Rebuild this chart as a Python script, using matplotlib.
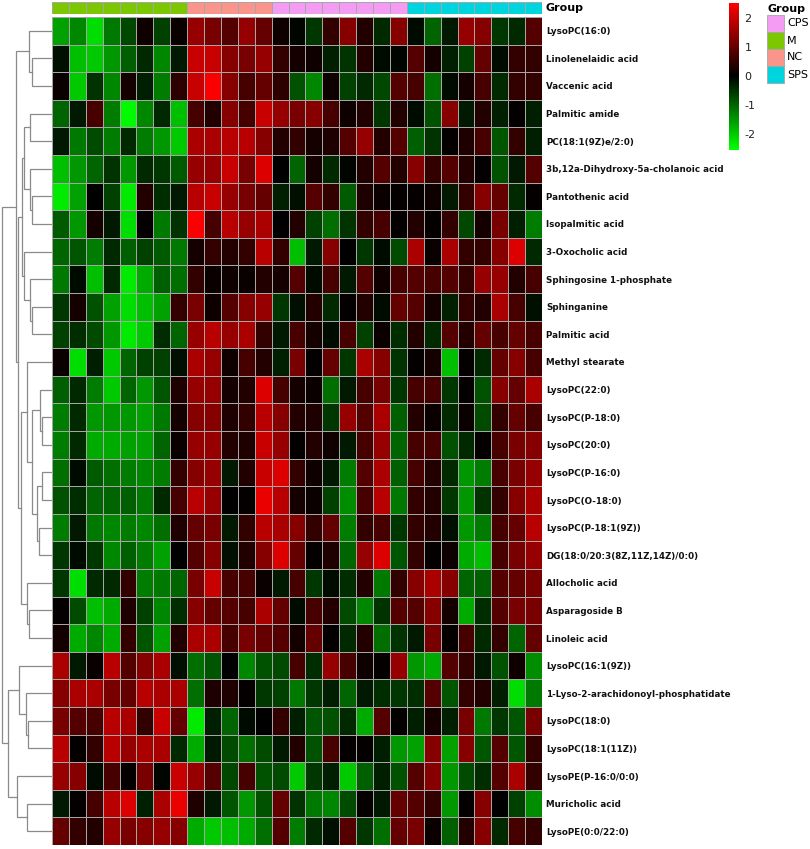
import numpy as np
import matplotlib
matplotlib.use("Agg")
import matplotlib.pyplot as plt
from matplotlib.colors import LinearSegmentedColormap, ListedColormap, Normalize
from matplotlib.colorbar import ColorbarBase
from matplotlib.patches import Rectangle

plt.rcParams["axes.unicode_minus"] = False

W, H = 810, 849

metabolites = [
    "LysoPC(16:0)", "Linolenelaidic acid", "Vaccenic acid", "Palmitic amide",
    "PC(18:1(9Z)e/2:0)", "3b,12a-Dihydroxy-5a-cholanoic acid", "Pantothenic acid",
    "Isopalmitic acid", "3-Oxocholic acid", "Sphingosine 1-phosphate", "Sphinganine",
    "Palmitic acid", "Methyl stearate", "LysoPC(22:0)", "LysoPC(P-18:0)",
    "LysoPC(20:0)", "LysoPC(P-16:0)", "LysoPC(O-18:0)", "LysoPC(P-18:1(9Z))",
    "DG(18:0/20:3(8Z,11Z,14Z)/0:0)", "Allocholic acid", "Asparagoside B",
    "Linoleic acid", "LysoPC(16:1(9Z))", "1-Lyso-2-arachidonoyl-phosphatidate",
    "LysoPC(18:0)", "LysoPC(18:1(11Z))", "LysoPE(P-16:0/0:0)", "Muricholic acid",
    "LysoPE(0:0/22:0)",
]

# column annotation (sample groups, left to right)
groups = ["M"] * 8 + ["NC"] * 5 + ["CPS"] * 8 + ["SPS"] * 8
group_names = ["CPS", "M", "NC", "SPS"]
group_colors = ["#F49CF4", "#7DC700", "#F9958A", "#00D5DF"]

# scaled values, one row per metabolite (29 samples each)
z = [
    [-1.6, -1.35, -2.2, -1.2, -0.7, 0.15, -0.65, 0.1, 1.5, 1.2, 0.85, 1.5, 1.0, 0.15, -0.05, -0.55, 0.5, 1.35, 0.35, -0.4, 1.35, -0.1, -1.0, -0.25, 1.5, 1.35, -0.55, -0.4, 0.85],
    [-0.15, -1.9, -2.0, -1.5, -0.95, -0.4, -1.35, -0.25, 2.0, 2.0, 1.35, 1.2, 1.5, 0.5, 0.2, 0.15, -0.3, -0.5, 0.35, -0.1, -0.05, 0.85, 0.2, -0.3, -0.65, 1.0, -0.1, 0.5, 0.5],
    [0.1, -2.0, -0.5, -1.35, 0.2, -0.3, -1.25, 0.45, 2.0, 2.5, 1.35, 0.7, 1.0, 0.45, -0.8, -1.35, 0.15, -0.65, -0.4, -0.7, 0.85, 0.7, -1.1, -0.1, 0.2, 0.7, -0.4, 0.5, 0.5],
    [-1.0, -0.25, 0.7, -1.25, -2.5, -1.35, -0.4, -1.9, 0.7, 0.35, 1.35, 0.7, 2.0, 1.5, 1.2, 1.35, 0.7, 0.15, 0.35, -0.55, 0.35, -0.1, -0.8, 1.35, -0.25, 0.35, -0.3, 0.05, -0.3],
    [-0.25, -1.2, -0.75, -1.25, -0.4, -1.25, -1.5, -2.0, 1.7, 1.7, 1.85, 1.85, 1.35, 0.35, 0.5, 0.2, 0.3, 0.85, 1.5, 0.35, 0.85, -0.95, -0.5, 0.05, 0.3, 0.7, -0.85, 0.5, -0.3],
    [-1.9, -1.5, -1.0, -0.5, -1.5, -0.4, -0.55, -0.9, 1.5, 1.5, 2.0, 1.2, 2.2, 0.0, -1.0, 0.2, -0.4, -0.05, 0.35, 0.85, 0.35, 1.35, 0.5, 0.85, 0.35, 0.05, -0.8, -0.25, 0.85],
    [-2.35, -1.6, 0.0, -0.65, -2.35, 0.35, -0.45, -0.25, 1.85, 2.0, 1.5, 1.2, 1.0, -0.3, -0.15, 0.85, 0.5, -0.9, 0.3, 0.1, 0.05, 0.05, 0.15, -0.25, 0.5, 1.35, 1.0, -0.4, 0.05],
    [-0.9, -1.5, 0.2, -0.25, -2.2, 0.05, -1.2, -0.5, 2.5, 0.7, 1.85, 1.5, 1.7, 0.0, 0.35, -0.65, -1.1, -0.5, 0.5, 0.7, 0.05, 0.35, 0.05, 0.5, -0.7, 0.2, 1.2, -0.3, -1.25],
    [-1.0, -0.85, -1.25, -0.4, -0.95, -0.65, -0.9, -1.2, 0.2, 0.5, 0.35, 0.5, 1.85, 0.5, -1.9, -0.25, 1.35, 0.0, -0.55, -0.1, -0.75, 1.7, 0.1, 1.7, 0.5, 0.5, 1.35, 2.2, -0.4],
    [-1.2, -0.1, -1.9, -0.4, -2.35, -1.7, -0.95, -1.1, 0.5, 0.1, 0.15, 0.1, 0.35, 0.2, 0.85, -0.1, 0.7, -0.25, 0.85, 0.15, 0.7, 0.85, 0.7, 0.85, 0.5, 1.5, 1.5, 0.35, 0.7],
    [-0.55, 0.2, -0.8, -1.6, -2.2, -1.9, -1.6, 0.5, 1.2, 0.15, 0.85, 1.35, 1.5, -0.55, -0.15, 0.35, -0.4, 0.05, 0.35, -0.1, 1.0, 0.85, 0.2, -0.3, 0.5, 0.35, 1.7, 0.7, -0.15],
    [-0.65, -0.45, -0.75, -1.5, -2.35, -2.0, -0.45, -1.0, 1.5, 1.85, 1.5, 1.7, 0.5, -0.25, 0.7, 0.2, -0.1, 0.7, -0.65, 0.1, -0.45, 0.35, -0.4, 0.85, 0.35, 1.0, 0.7, 1.0, 0.7],
    [0.1, -2.2, -0.3, -2.0, -1.0, -0.65, -0.65, -0.15, 1.7, 1.5, 0.15, 0.7, 0.35, -0.3, 1.2, 0.05, 1.0, -0.55, 1.7, 1.35, -0.5, 0.05, 0.2, -1.9, 0.05, -0.4, 1.0, 1.35, 0.7],
    [-0.95, -0.4, -1.25, -2.0, -1.0, -1.5, -0.85, 0.3, 1.5, 1.5, 0.2, 0.35, 2.2, 0.7, 0.2, 0.1, -1.1, -0.25, 0.7, 1.2, -0.55, 0.7, 0.7, -0.55, 0.05, -0.8, 1.35, 1.0, 1.7],
    [-1.25, -0.4, -1.5, -1.5, -1.5, -1.6, -1.2, 0.2, 1.35, 1.35, 0.3, 0.5, 1.85, 1.35, 0.35, 0.3, -0.55, 1.5, 0.85, 1.7, -0.95, 0.35, 0.1, -0.4, 0.1, -0.75, 0.5, 1.0, 0.7],
    [-1.25, -0.4, -1.7, -1.7, -1.6, -1.6, -1.0, 0.1, 1.5, 1.5, 0.35, 0.3, 2.0, 1.5, 0.05, 0.35, 0.15, -0.25, 0.7, 1.5, -1.0, 0.7, 0.7, -0.8, -0.4, 0.05, 0.7, 1.2, 1.35],
    [-1.1, -0.1, -0.9, -1.1, -1.25, -1.35, -1.25, 0.5, 1.35, 1.5, -0.25, 0.35, 2.0, 2.2, 0.5, 0.15, -0.25, -1.25, 0.85, 1.7, -0.95, 0.7, 0.35, -0.4, -1.5, -1.25, 0.7, 1.2, 1.5],
    [-0.8, -0.45, -1.0, -1.0, -0.95, -1.2, -0.4, 0.7, 1.85, 1.5, 0.0, 0.05, 2.35, 1.85, 0.2, 0.1, -0.65, -1.4, 0.7, 1.85, -1.2, 0.5, 0.35, -0.55, -1.5, -0.5, 0.5, 1.35, 1.7],
    [-1.25, -0.25, -1.2, -1.35, -1.25, -1.35, -1.1, 0.3, 1.0, 1.2, -0.25, 0.5, 1.85, 1.7, 1.35, 0.5, 1.0, -1.25, 0.5, 0.7, -0.55, 0.5, 0.35, -0.15, -1.5, -1.25, 0.7, 1.0, 1.85],
    [-0.55, -0.1, -0.55, -1.35, -0.95, -1.25, -1.6, 0.0, 0.85, 1.35, -0.15, 0.35, 1.35, 2.2, 1.0, 0.05, 0.3, -1.0, 1.5, 2.2, -0.85, 0.5, 0.05, 0.15, -1.7, -1.9, 0.7, 1.2, 1.5],
    [-0.55, -2.2, -0.4, -0.4, 0.5, -1.25, -1.2, -1.0, 1.2, 2.0, 0.7, 0.7, 0.1, -0.25, 0.7, -0.55, -0.1, -0.45, 0.35, -1.2, 0.5, 1.35, 1.7, 1.35, -1.0, -0.95, 0.85, 1.0, 1.2],
    [0.05, -0.75, -1.9, -1.7, 0.3, -0.65, -1.35, -0.45, 1.35, 1.0, 0.85, 0.7, 1.7, 1.0, -0.1, 0.7, 0.35, -0.75, -1.35, -0.5, 0.85, 0.85, 1.35, 0.2, -1.7, -0.45, 0.85, 1.2, 1.2],
    [0.2, -1.7, -1.35, -1.7, 0.5, -0.85, -1.6, 0.35, 1.7, 1.7, 0.7, 1.2, 1.0, 0.85, 0.2, 1.0, 0.05, -0.4, 0.35, -1.1, -0.5, -0.25, 1.2, 0.05, 0.7, -0.4, 0.5, -1.0, 1.0],
    [1.7, -0.25, 0.1, 1.85, 0.85, 1.35, 1.7, -0.15, -1.1, -0.85, 0.0, -1.35, -0.8, -0.75, 0.7, -0.45, 1.5, 0.7, 0.15, 0.05, 1.5, -1.5, -1.7, 0.85, 0.5, -0.25, -0.8, 0.15, -1.4],
    [1.35, 1.7, 1.7, 1.2, 1.0, 1.85, 1.7, 1.7, -1.1, 0.3, 0.3, 0.05, -0.55, -0.65, -1.2, -0.55, -0.3, -1.0, -0.25, -0.45, -0.55, -0.45, 0.85, -0.85, 0.5, 0.35, -0.3, -2.2, -1.2],
    [1.2, 0.85, 0.7, 1.85, 1.7, 0.5, 2.0, 1.0, -2.35, -0.3, -1.0, -0.1, 0.0, 0.5, -0.3, -0.85, -0.8, -0.4, -1.7, 0.85, 0.05, -0.3, 0.2, -0.3, 1.2, -1.2, -0.55, -0.85, 1.2],
    [1.85, 0.05, 0.5, 1.85, 1.5, 1.7, 1.7, -0.4, -1.7, -0.25, -0.75, -1.1, -0.75, -0.25, 0.35, -0.8, 0.7, 0.05, 0.05, -0.3, -1.5, -1.6, 1.35, -1.6, 1.35, -0.85, 0.85, -0.85, 0.5],
    [1.5, 1.35, -0.1, 0.7, 0.05, 1.2, -0.05, 2.0, 1.5, 0.85, -0.7, 0.7, -0.8, -0.75, -2.0, -0.55, -0.3, -2.0, -0.95, -0.3, -0.8, 0.85, 1.35, -1.5, -0.75, -0.45, 0.85, 1.7, 0.5],
    [-0.25, 0.05, 0.7, 1.85, 2.2, -0.3, 1.7, 2.35, 0.3, -0.25, -0.85, -1.5, -0.8, 1.0, -0.5, -1.2, -1.35, -0.75, 0.05, -0.25, 1.0, 0.85, 0.5, -1.5, 0.05, 1.35, 0.0, -0.65, -1.4],
    [1.0, 0.5, 0.35, 1.5, 1.2, 1.35, 1.5, 1.35, -1.7, -2.0, -1.9, -1.7, -1.1, 0.85, -1.25, -0.4, -0.15, 0.85, -0.55, -1.1, 1.0, 1.2, 0.1, -0.95, 0.35, 1.35, -0.4, 0.7, 0.5],
]

# row clustering: (left, right, height); ids >= 30 are earlier merges
merges = [
    (1, 2, 19.7), (0, 30, 23.3), (3, 4, 22.0), (6, 7, 19.7), (5, 33, 22.0),
    (32, 34, 28.0), (10, 11, 20.3), (9, 36, 22.0), (8, 37, 28.0), (35, 38, 30.0),
    (14, 15, 10.3), (13, 40, 12.0), (16, 17, 9.7), (18, 19, 12.7), (42, 43, 15.3),
    (41, 44, 19.7), (12, 45, 25.3), (21, 22, 22.7), (20, 47, 25.3), (46, 48, 31.3),
    (39, 49, 33.7), (31, 50, 36.0), (25, 26, 23.7), (24, 52, 26.0), (23, 53, 32.7),
    (28, 29, 25.3), (27, 55, 34.7), (54, 56, 43.7), (51, 57, 50.3),
]

VMIN, VMAX = -2.55, 2.55
cmap = LinearSegmentedColormap.from_list("gkr", ["#00FF00", "#000000", "#FF0000"])
grid_col = "#a6a6a6"


def px(x0, y0, w, h):
    return [x0 / W, 1 - (y0 + h) / H, w / W, h / H]


fig = plt.figure(figsize=(W / 100, H / 100), dpi=100)
fig.patch.set_facecolor("white")

data = np.array(z)
nrow, ncol = data.shape

# heatmap
ax = fig.add_axes(px(52, 17, 490, 828))
ax.pcolormesh(np.arange(ncol + 1), np.arange(nrow + 1), data, cmap=cmap,
              vmin=VMIN, vmax=VMAX, edgecolors=grid_col, linewidth=0.6)
ax.set_xlim(0, ncol)
ax.set_ylim(nrow, 0)
ax.set_xticks([])
ax.yaxis.tick_right()
ax.set_yticks(np.arange(nrow) + 0.5)
ax.set_yticklabels(metabolites, fontsize=6.3, fontweight="bold", color="#111111")
ax.tick_params(axis="y", length=0, pad=3)
for s in ax.spines.values():
    s.set_visible(False)

# group annotation strip
axg = fig.add_axes(px(52, 2, 490, 12))
gidx = np.array([[group_names.index(g) for g in groups]])
axg.pcolormesh(np.arange(ncol + 1), [0, 1], gidx, cmap=ListedColormap(group_colors),
               vmin=-0.5, vmax=len(group_names) - 0.5, edgecolors=grid_col, linewidth=0.6)
axg.set_xlim(0, ncol)
axg.set_ylim(1, 0)
axg.axis("off")
axg.text(ncol + 0.2, 0.5, "Group", fontsize=8, fontweight="bold", va="center", ha="left")

# row dendrogram
axd = fig.add_axes(px(0, 17, 52, 828))
pos = {i: (0.0, i + 0.5) for i in range(nrow)}
for k, (a, b, h) in enumerate(merges):
    ha, ya = pos[a]
    hb, yb = pos[b]
    axd.plot([ha, h, h, hb], [ya, ya, yb, yb], color="#8a8a8a", lw=0.9,
             solid_joinstyle="miter")
    pos[nrow + k] = (h, (ya + yb) / 2)
axd.set_xlim(52, 0)
axd.set_ylim(nrow, 0)
axd.axis("off")

# colour key
axc = fig.add_axes(px(729, 2.5, 10, 147))
cb = ColorbarBase(axc, cmap=cmap, norm=Normalize(VMIN, VMAX), ticks=[-2, -1, 0, 1, 2])
cb.outline.set_visible(False)
axc.tick_params(length=0, labelsize=8, pad=4, labelcolor="#222222")

# group legend
fig.text(768 / W, 1 - 9 / H, "Group", fontsize=8, fontweight="bold", va="center", ha="left")
for i, (name, col) in enumerate(zip(group_names, group_colors)):
    y0 = 15 + i * 17
    fig.patches.append(Rectangle((767 / W, 1 - (y0 + 17) / H), 17 / W, 17 / H,
                                 transform=fig.transFigure, facecolor=col,
                                 edgecolor=grid_col, linewidth=0.6))
    fig.text(787 / W, 1 - (y0 + 8.5) / H, name, fontsize=8, va="center", ha="left")

fig.savefig("out.png", dpi=100)
